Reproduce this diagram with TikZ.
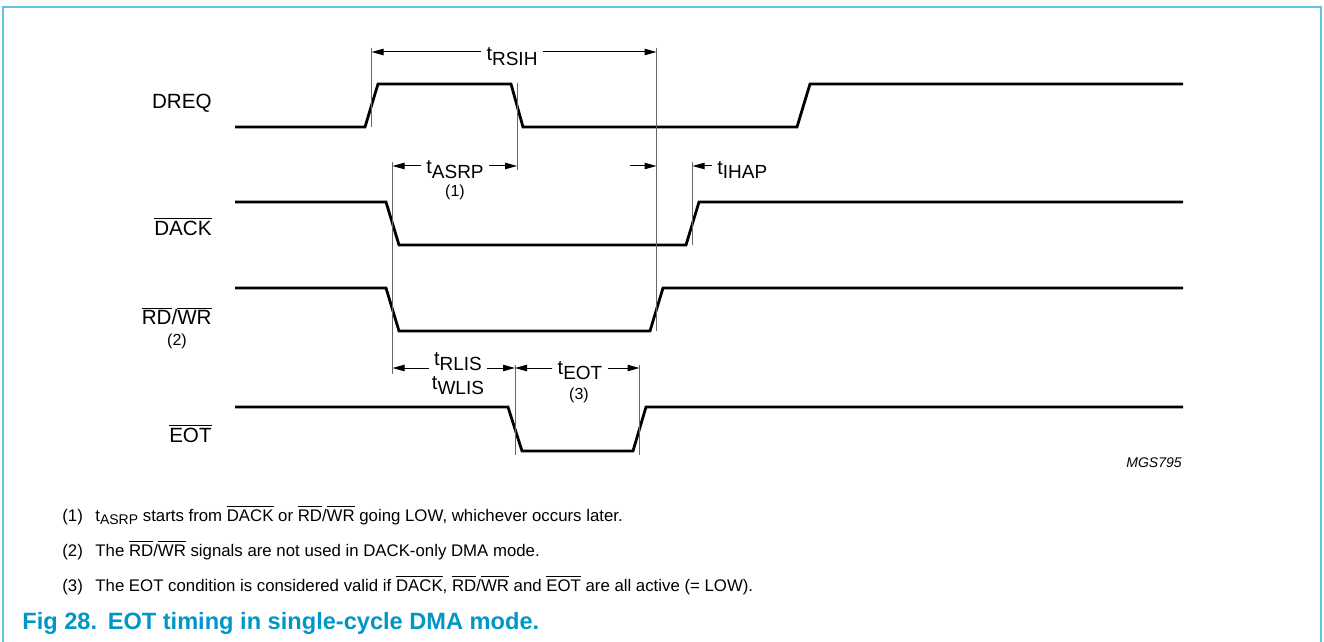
\documentclass[tikz,border=0pt]{standalone}
\usepackage{fontspec}
\setmainfont{Liberation Sans}
\usetikzlibrary{arrows.meta, positioning, calc}

\definecolor{framecyan}{RGB}{95,195,225}
\definecolor{captionblue}{RGB}{0,150,200}

% timing symbol: t with a lowered subscript
\newcommand{\tsig}[1]{t\raisebox{-2.4pt}{\fontsize{9.5}{10}\selectfont #1}}
% same in the notes
\newcommand{\tnote}[1]{t\raisebox{-1.6pt}{\fontsize{7}{8}\selectfont #1}}
% active-low signal name
\newcommand{\ovl}[1]{$\overline{\mbox{#1}}$}

\begin{document}
\begin{tikzpicture}[
    x=0.5pt, y=-0.5pt,
    >={Triangle[length=6pt, width=3.2pt]},
    wave/.style={line width=1.4pt, line join=miter},
    marker/.style={line width=0.5pt, draw=black!60},
    dim/.style={->, line width=0.5pt},
    siglabel/.style={anchor=east, inner sep=0pt, font=\fontsize{10.3}{12}\selectfont},
    tlabel/.style={inner sep=2.5pt, font=\fontsize{10}{12}\selectfont},
    ref/.style={inner sep=0pt, font=\fontsize{8}{10}\selectfont},
    note/.style={anchor=base west, inner sep=0pt, font=\fontsize{8.4}{10}\selectfont}
]

    \useasboundingbox (0,0) rectangle (1324,642);

    % =========================================================
    % FRAME
    % =========================================================
    \draw[framecyan, line width=1.3pt] (3,642) -- (3,7) -- (1321,7) -- (1321,642);

    % =========================================================
    % SIGNAL NAMES
    % =========================================================
    \node[siglabel] (dreqlbl) at (212,103) {DREQ};
    \node[siglabel] (dacklbl) at (212,226) {\ovl{DACK}};
    \node[siglabel] (rdwrlbl) at (212,316) {\ovl{RD}/\ovl{WR}};
    \node[ref] (rdwrref) at (177,341) {(2)};
    \node[siglabel] (eotlbl) at (212,433) {\ovl{EOT}};

    % =========================================================
    % WAVEFORMS
    % =========================================================
    \draw[wave] (235,127) -- (365,127) -- (378,84) -- (511,84) -- (523,127)
        -- (797,127) -- (810,84) -- (1183,84);
    \draw[wave] (235,202) -- (386,202) -- (399,245) -- (686,245) -- (699,202) -- (1183,202);
    \draw[wave] (235,288) -- (386,288) -- (399,331) -- (650,331) -- (663,288) -- (1183,288);
    \draw[wave] (235,407) -- (508,407) -- (522,451) -- (633,451) -- (646,407) -- (1183,407);

    % =========================================================
    % EDGE MARKERS
    % =========================================================
    \coordinate (dreqrise) at (371.5,48);
    \coordinate (dreqfall) at (517,83);
    \coordinate (dackfall) at (392.5,162);
    \coordinate (rdwrrise) at (656.5,48);
    \coordinate (dackrise) at (692.5,162);
    \coordinate (eotfall)  at (515,365);
    \coordinate (eotrise)  at (639.5,365);

    \draw[marker] (dreqrise) -- ++(0,79);
    \draw[marker] (dreqfall) -- ++(0,87);
    \draw[marker] (dackfall) -- ++(0,212);
    \draw[marker] (rdwrrise) -- ++(0,283);
    \draw[marker] (dackrise) -- ++(0,83);
    \draw[marker] (eotfall) -- ++(0,90);
    \draw[marker] (eotrise) -- ++(0,90);

    % =========================================================
    % TIMING PARAMETERS
    % =========================================================
    \node[tlabel] (rsih) at (512,57) {\tsig{RSIH}};
    \draw[dim] (rsih.west |- 0,52) -- (dreqrise |- 0,52);
    \draw[dim] (rsih.east |- 0,52) -- (rdwrrise |- 0,52);

    \node[tlabel] (asrp) at (455,170) {\tsig{ASRP}};
    \node[ref] (asrpref) at (455,192) {(1)};
    \draw[dim] (asrp.west |- 0,166) -- (dackfall |- 0,166);
    \draw[dim] (asrp.east |- 0,166) -- (dreqfall |- 0,166);

    \coordinate (ihapin) at (630,166);
    \node[tlabel, anchor=west] (ihap) at (712,170) {\tsig{IHAP}};
    \draw[dim] (ihapin) -- (rdwrrise |- ihapin);
    \draw[dim] (ihap.west |- ihapin) -- (dackrise |- ihapin);

    \node[tlabel] (rlis) at (458,362) {\tsig{RLIS}};
    \node[tlabel] (wlis) at (458,386) {\tsig{WLIS}};
    \draw[dim] (rlis.west |- 0,368) -- (dackfall |- 0,368);
    \draw[dim] (rlis.east |- 0,368) -- (eotfall |- 0,368);

    \node[tlabel] (teot) at (580,371) {\tsig{EOT}};
    \node[ref] (teotref) at (579,395) {(3)};
    \draw[dim] (teot.west |- 0,368) -- (eotfall |- 0,368);
    \draw[dim] (teot.east |- 0,368) -- (eotrise |- 0,368);

    \node[anchor=east, inner sep=0pt, font=\fontsize{7}{8}\selectfont\itshape] (figcode) at (1182,463) {MGS795};

    % =========================================================
    % NOTES AND CAPTION
    % =========================================================
    \node[note] (n1num) at (62,521) {(1)};
    \node[note] (n1) at (95,521) {\tnote{ASRP} starts from \ovl{DACK} or \ovl{RD}/\ovl{WR} going LOW, whichever occurs later.};
    \node[note] (n2num) at (62,556) {(2)};
    \node[note] (n2) at (95,556) {The \ovl{RD}/\ovl{WR} signals are not used in DACK-only DMA mode.};
    \node[note] (n3num) at (62,591) {(3)};
    \node[note] (n3) at (95,591) {The EOT condition is considered valid if \ovl{DACK}, \ovl{RD}/\ovl{WR} and \ovl{EOT} are all active (= LOW).};

    \node[anchor=base west, inner sep=0pt, text=captionblue, font=\fontsize{11.8}{14}\selectfont\bfseries] (caption) at (22,629) {Fig 28.\hspace{0.45em}EOT timing in single-cycle DMA mode.};

\end{tikzpicture}
\end{document}
